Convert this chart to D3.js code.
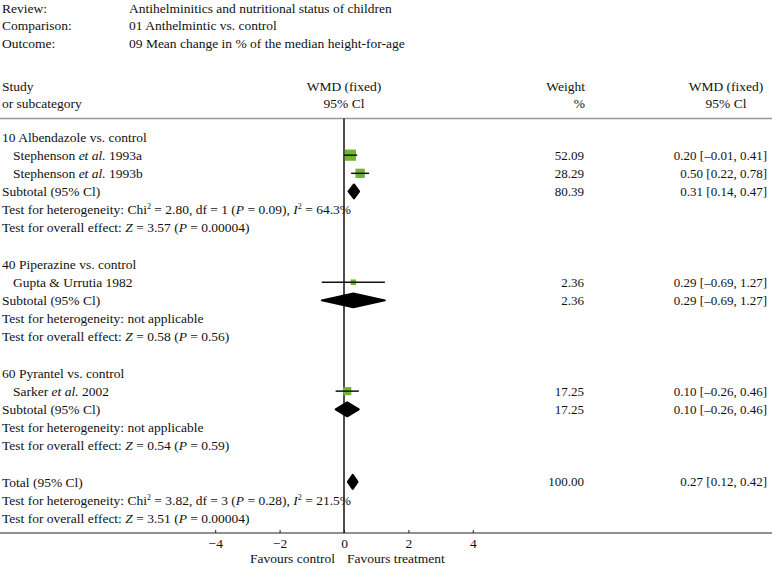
<!DOCTYPE html>
<html>
<head>
<meta charset="utf-8">
<script src="https://cdn.jsdelivr.net/npm/d3@7/dist/d3.min.js"></script>
<style>
  html, body { margin: 0; padding: 0; background: #fff; }
  svg { display: block; }
  text { font-family: "Liberation Serif", "Times New Roman", serif; font-size: 13.5px; fill: #111; }
  text.num { font-size: 13px; }
</style>
</head>
<body>
<svg id="chart" width="772" height="567"></svg>
<script>
// ---------- data ----------
const headerLabels = ["Review:", "Comparison:", "Outcome:"];
const headerValues = ["Antihelminitics and nutritional status of children",
                      "01 Anthelmintic vs. control",
                      "09 Mean change in % of the median height-for-age"];

const groupNames = ["10 Albendazole vs. control", "40 Piperazine vs. control", "60 Pyrantel vs. control"];
const groupRows = [0, 7, 13];

const studyNames = ["Stephenson <i>et al.</i> 1993a", "Stephenson <i>et al.</i> 1993b",
                    "Gupta &amp; Urrutia 1982", "Sarker <i>et al.</i> 2002"];
const studyRows = [1, 2, 8, 14];
const studyWeights = [52.09, 28.29, 2.36, 17.25];
const studyMeans = [0.20, 0.50, 0.29, 0.10];
const studyLows = [-0.01, 0.22, -0.69, -0.26];
const studyHighs = [0.41, 0.78, 1.27, 0.46];

const pooledNames = ["Subtotal (95% Cl)", "Subtotal (95% Cl)", "Subtotal (95% Cl)", "Total (95% Cl)"];
const pooledRows = [3, 9, 15, 19];
const pooledWeights = [80.39, 2.36, 17.25, 100.00];
const pooledMeans = [0.31, 0.29, 0.10, 0.27];
const pooledLows = [0.14, -0.69, -0.26, 0.12];
const pooledHighs = [0.47, 1.27, 0.46, 0.42];

const testTexts = [
  "Test for heterogeneity: Chi<sup>2</sup> = 2.80, df = 1 (<i>P</i> = 0.09), <i>I</i><sup>2</sup> = 64.3%",
  "Test for overall effect: <i>Z</i> = 3.57 (<i>P</i> = 0.00004)",
  "Test for heterogeneity: not applicable",
  "Test for overall effect: <i>Z</i> = 0.58 (<i>P</i> = 0.56)",
  "Test for heterogeneity: not applicable",
  "Test for overall effect: <i>Z</i> = 0.54 (<i>P</i> = 0.59)",
  "Test for heterogeneity: Chi<sup>2</sup> = 3.82, df = 3 (<i>P</i> = 0.28), <i>I</i><sup>2</sup> = 21.5%",
  "Test for overall effect: <i>Z</i> = 3.51 (<i>P</i> = 0.00004)"
];
const testRows = [4, 5, 10, 11, 16, 17, 20, 21];

const xTicks = [-4, -2, 0, 2, 4];
const xDomain = [-4, 4];

// ---------- layout ----------
const svg = d3.select("#chart");
const x = d3.scaleLinear().domain(xDomain).range([215.2, 472.8]);
const row = d3.scaleLinear().domain([0, 21]).range([137, 518.2]);
const boxSize = d3.scaleSqrt().domain([0, 100]).range([4, 14]);
const fmt2 = d3.format(".2f");
const fmtCI = v => (v < 0 ? "\u2013" + fmt2(-v) : fmt2(v));
const ciText = (m, l, h) => `${fmtCI(m)} [${fmtCI(l)}, ${fmtCI(h)}]`;

const xLeft = 2, xIndent = 13, xWeight = 584, xWmd = 767, xWmdHead = 726;
const topRule = 118.5, bottomRule = 533;
const GREEN = "#70b52e";

function richText(sel, str) {
  const parts = str.split(/(<i>.*?<\/i>|<sup>.*?<\/sup>)/).filter(s => s.length);
  let raised = false;
  parts.forEach(p => {
    let t, italic = false, sup = false;
    if (p.startsWith("<i>")) { t = p.slice(3, -4); italic = true; }
    else if (p.startsWith("<sup>")) { t = p.slice(5, -6); sup = true; }
    else t = p;
    t = t.replace(/&amp;/g, "&");
    const ts = sel.append("tspan").text(t);
    if (italic) ts.attr("font-style", "italic");
    if (sup) { ts.attr("font-size", "8px").attr("dy", -5); raised = true; }
    else if (raised) { ts.attr("dy", 5); raised = false; }
  });
}

function addText(str, xp, yc, anchor, cls) {
  const t = svg.append("text")
    .attr("x", xp).attr("y", yc).attr("dy", "0.35em")
    .attr("text-anchor", anchor || "start");
  if (cls) t.attr("class", cls);
  richText(t, str);
  return t;
}

// header block
const headY = [8, 25.5, 43];
headerLabels.forEach((s, i) => addText(s, xLeft, headY[i]));
headerValues.forEach((s, i) => addText(s, 129, headY[i]));

addText("Study", xLeft, 86);
addText("or subcategory", xLeft, 103);
addText("WMD (fixed)", x(0), 86, "middle");
addText("95% Cl", x(0), 103, "middle");
addText("Weight", xWeight + 1, 86, "end");
addText("%", xWeight + 1, 103, "end");
addText("WMD (fixed)", xWmdHead, 86, "middle");
addText("95% Cl", xWmdHead, 103, "middle");

// rules
svg.append("line").attr("x1", 0).attr("x2", 772).attr("y1", topRule).attr("y2", topRule)
  .attr("stroke", "#999").attr("stroke-width", 1.5);
svg.append("line").attr("x1", 0).attr("x2", 772).attr("y1", bottomRule).attr("y2", bottomRule)
  .attr("stroke", "#222").attr("stroke-width", 1.2);

// zero line
svg.append("line").attr("x1", x(0)).attr("x2", x(0)).attr("y1", topRule).attr("y2", bottomRule)
  .attr("stroke", "#111").attr("stroke-width", 1.5);

// axis
const axis = d3.axisBottom(x).tickValues(xTicks).tickSize(-3).tickPadding(8)
  .tickFormat(d => d < 0 ? "\u2212" + Math.abs(d) : String(d));
const ag = svg.append("g").attr("transform", `translate(0,${bottomRule})`).call(axis);
ag.select(".domain").remove();
ag.selectAll(".tick line").attr("stroke", "#222");
ag.selectAll(".tick text").attr("font-family", "Liberation Serif, serif").attr("font-size", 13).attr("fill", "#111").attr("y", 5).attr("dy", "0.71em");

addText("Favours control", x(0) - 9, 558, "end");
addText("Favours treatment", x(0) + 3, 558, "start");

// group names
groupNames.forEach((s, i) => addText(s, xLeft, row(groupRows[i])));
// tests
testTexts.forEach((s, i) => addText(s, xLeft, row(testRows[i])));

// studies
studyNames.forEach((s, i) => {
  const y = row(studyRows[i]);
  addText(s, xIndent, y);
  addText(fmt2(studyWeights[i]), xWeight, y, "end", "num");
  addText(ciText(studyMeans[i], studyLows[i], studyHighs[i]), xWmd, y, "end", "num");
});

const sg = svg.append("g");
const studyIdx = d3.range(studyNames.length);
sg.selectAll("rect.box").data(studyIdx).join("rect")
  .attr("class", "box")
  .attr("x", i => x(studyMeans[i]) - boxSize(studyWeights[i]) / 2)
  .attr("y", i => row(studyRows[i]) - boxSize(studyWeights[i]) / 2)
  .attr("width", i => boxSize(studyWeights[i]))
  .attr("height", i => boxSize(studyWeights[i]))
  .attr("fill", GREEN);
sg.selectAll("line.ci").data(studyIdx).join("line")
  .attr("class", "ci")
  .attr("x1", i => x(studyLows[i])).attr("x2", i => x(studyHighs[i]))
  .attr("y1", i => row(studyRows[i])).attr("y2", i => row(studyRows[i]))
  .attr("stroke", "#111").attr("stroke-width", 1.5);

// pooled
pooledNames.forEach((s, i) => {
  const y = row(pooledRows[i]);
  addText(s, xLeft, y);
  addText(fmt2(pooledWeights[i]), xWeight, y, "end", "num");
  addText(ciText(pooledMeans[i], pooledLows[i], pooledHighs[i]), xWmd, y, "end", "num");
});
const pIdx = d3.range(pooledNames.length);
svg.append("g").selectAll("polygon").data(pIdx).join("polygon")
  .attr("points", i => {
    const y = row(pooledRows[i]), h = 7;
    return [[x(pooledLows[i]), y], [x(pooledMeans[i]), y - h], [x(pooledHighs[i]), y], [x(pooledMeans[i]), y + h]]
      .map(p => p.join(",")).join(" ");
  })
  .attr("fill", "#000").attr("stroke", "#000").attr("stroke-width", 2).attr("stroke-linejoin", "round");
</script>
</body>
</html>
